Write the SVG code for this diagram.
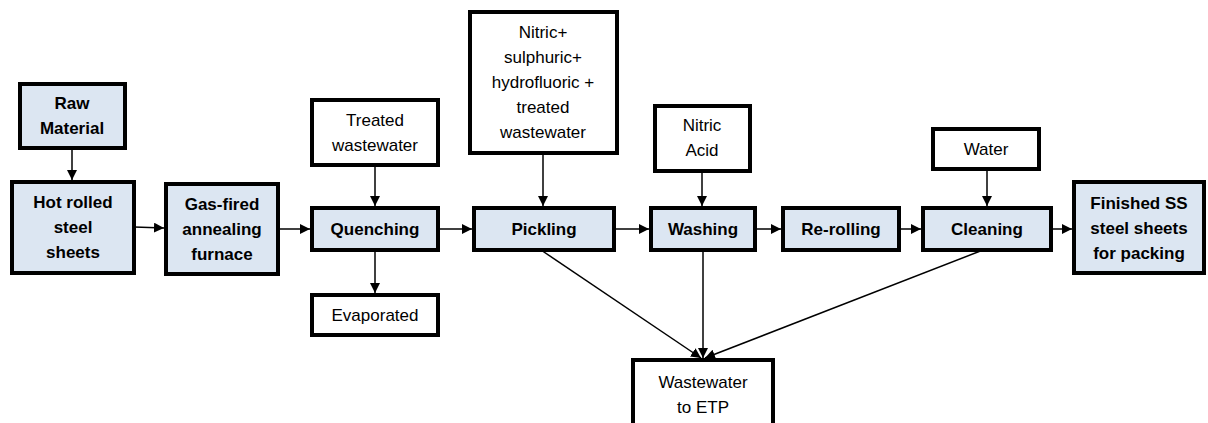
<svg xmlns="http://www.w3.org/2000/svg" width="1208" height="423" viewBox="0 0 1208 423">
<style>
.p{fill:#dce6f2;stroke:#000;stroke-width:4}
.w{fill:#fff;stroke:#000;stroke-width:4}
.c{stroke:#000;stroke-width:1.5;fill:none;marker-end:url(#ah)}
text{font-family:"Liberation Sans",Arial,sans-serif;font-size:17px;fill:#000;text-anchor:middle}
.b{font-weight:bold}
</style>
<defs>
<marker id="ah" markerUnits="userSpaceOnUse" markerWidth="10" markerHeight="10" refX="10" refY="5" orient="auto">
<path d="M0,0 L10,5 L0,10 Z" fill="#000"/>
</marker>
</defs>
<rect width="1208" height="423" fill="#fff"/>
<g id="connectors">
<line class="c" x1="72" y1="148" x2="72" y2="180"/>
<line class="c" x1="134" y1="227" x2="164" y2="228"/>
<line class="c" x1="278" y1="229" x2="310" y2="229"/>
<line class="c" x1="375" y1="165" x2="375" y2="206"/>
<line class="c" x1="375" y1="250" x2="375" y2="293"/>
<line class="c" x1="438" y1="229" x2="472" y2="229"/>
<line class="c" x1="543" y1="153" x2="543" y2="206"/>
<line class="c" x1="614" y1="229" x2="649" y2="229"/>
<line class="c" x1="702" y1="171" x2="702" y2="206"/>
<line class="c" x1="755" y1="229" x2="781" y2="229"/>
<line class="c" x1="899" y1="229" x2="921" y2="229"/>
<line class="c" x1="987" y1="169" x2="987" y2="206"/>
<line class="c" x1="1051" y1="229" x2="1072" y2="229"/>
<line class="c" x1="541" y1="250" x2="701" y2="358"/>
<line class="c" x1="703" y1="250" x2="703" y2="358"/>
<line class="c" x1="983" y1="250" x2="705" y2="358"/>
</g>
<g id="raw"><rect class="p" x="20" y="84" width="105" height="64"/><text class="b" x="72" y="109">Raw</text><text class="b" x="72" y="134">Material</text></g>
<g id="hot"><rect class="p" x="12" y="182" width="122" height="91"/><text class="b" x="73" y="208">Hot rolled</text><text class="b" x="73" y="233">steel</text><text class="b" x="73" y="258">sheets</text></g>
<g id="gas"><rect class="p" x="166" y="184" width="112" height="90"/><text class="b" x="222" y="210">Gas-fired</text><text class="b" x="222" y="235">annealing</text><text class="b" x="222" y="260">furnace</text></g>
<g id="treated"><rect class="w" x="312" y="100" width="126" height="65"/><text x="375" y="126">Treated</text><text x="375" y="151">wastewater</text></g>
<g id="quenching"><rect class="p" x="312" y="208" width="126" height="42"/><text class="b" x="375" y="235">Quenching</text></g>
<g id="evaporated"><rect class="w" x="312" y="295" width="126" height="40"/><text x="375" y="321">Evaporated</text></g>
<g id="acids"><rect class="w" x="470" y="12" width="147" height="141"/><text x="543" y="38">Nitric+</text><text x="543" y="63">sulphuric+</text><text x="543" y="88">hydrofluoric +</text><text x="543" y="113">treated</text><text x="543" y="138">wastewater</text></g>
<g id="pickling"><rect class="p" x="474" y="208" width="140" height="42"/><text class="b" x="544" y="235">Pickling</text></g>
<g id="nitric"><rect class="w" x="655" y="106" width="95" height="65"/><text x="702" y="131">Nitric</text><text x="702" y="156">Acid</text></g>
<g id="washing"><rect class="p" x="651" y="208" width="104" height="42"/><text class="b" x="703" y="235">Washing</text></g>
<g id="rerolling"><rect class="p" x="783" y="208" width="116" height="42"/><text class="b" x="841" y="235">Re-rolling</text></g>
<g id="water"><rect class="w" x="933" y="129" width="106" height="40"/><text x="986" y="155">Water</text></g>
<g id="cleaning"><rect class="p" x="923" y="208" width="128" height="42"/><text class="b" x="987" y="235">Cleaning</text></g>
<g id="finished"><rect class="p" x="1074" y="182" width="130" height="91"/><text class="b" x="1139" y="209">Finished SS</text><text class="b" x="1139" y="234">steel sheets</text><text class="b" x="1139" y="259">for packing</text></g>
<g id="etp"><rect class="w" x="633" y="360" width="140" height="70"/><text x="703" y="388">Wastewater</text><text x="703" y="413">to ETP</text></g>
</svg>
